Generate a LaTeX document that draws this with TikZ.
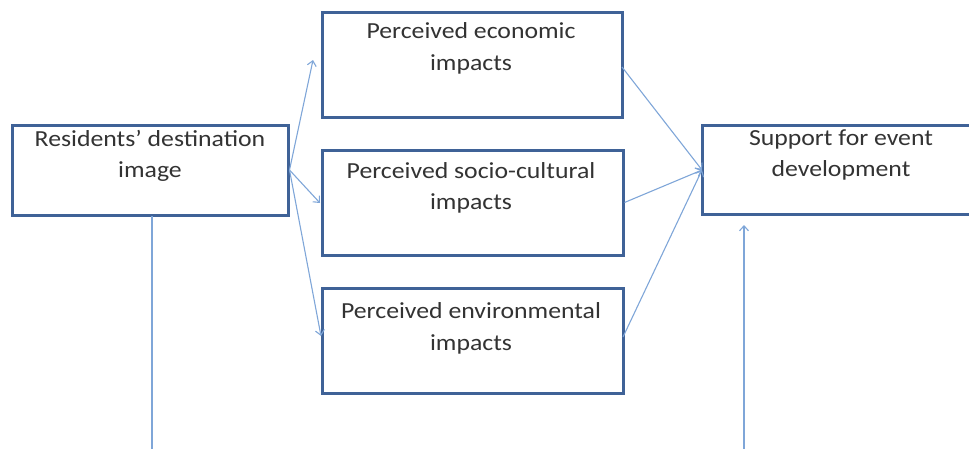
\documentclass[tikz,border=0pt]{standalone}
\usepackage{fontspec}
\setmainfont{Carlito}[FakeStretch=1.12]
\usetikzlibrary{arrows.meta}
\definecolor{boxblue}{HTML}{3F6297}
\definecolor{arrblue}{HTML}{7FA6D8}
\definecolor{txtgray}{HTML}{333333}
\tikzset{
  box/.style={draw=boxblue, line width=3pt, fill=white, inner sep=0pt},
  txt/.style={align=center, text=txtgray, font=\fontsize{23}{31.5}\selectfont, inner sep=0pt},
  conn/.style={draw=arrblue, line width=1.1pt},
  arr/.style={conn, -{Straight Barb[length=5pt,width=9pt,line width=1.1pt]}}
}
\begin{document}
\begin{tikzpicture}[x=1pt,y=-1pt]
\useasboundingbox (0,0) rectangle (969,448);
% boxes
\node[box, minimum width=276pt, minimum height=90pt] (res) at (150,170) {};
\node[box, minimum width=300pt, minimum height=105pt] (eco) at (472,64.5) {};
\node[box, minimum width=301pt, minimum height=105pt] (soc) at (472.5,202.5) {};
\node[box, minimum width=301pt, minimum height=105pt] (env) at (472.5,340.5) {};
\node[box, minimum width=300pt, minimum height=89pt] (sup) at (852,169.5) {};
% texts
\node[txt] (rest) at (150,156) {Residents’ destination\\image};
\node[txt] (ecot) at (471,48.5) {Perceived economic\\impacts};
\node[txt] (soct) at (471,188) {Perceived socio-cultural\\impacts};
\node[txt] (envt) at (471,328.5) {Perceived environmental\\impacts};
\node[txt] (supt) at (841,155) {Support for event\\development};
% connector end points
\coordinate (ecotip) at (313,60);
\coordinate (soctip) at (320,203);
\coordinate (envtip) at (321,336);
\coordinate (ecoout) at (622,67);
\coordinate (envout) at (623,337);
\coordinate (suptip) at (702,170);
\coordinate (resbot) at (152,216);
\coordinate (botl) at (152,449);
\coordinate (botr) at (744,449);
\coordinate (uptip) at (744,225);
% connectors
\draw[arr] (res.east) -- (ecotip);
\draw[arr] (res.east) -- (soctip);
\draw[arr] (res.east) -- (envtip);
\draw[arr] (ecoout) -- (suptip);
\draw[arr] (soc.east) -- (suptip);
\draw[arr] (envout) -- (suptip);
\draw[conn] (resbot) -- (botl);
\draw[arr] (botr) -- (uptip);
\end{tikzpicture}
\end{document}
